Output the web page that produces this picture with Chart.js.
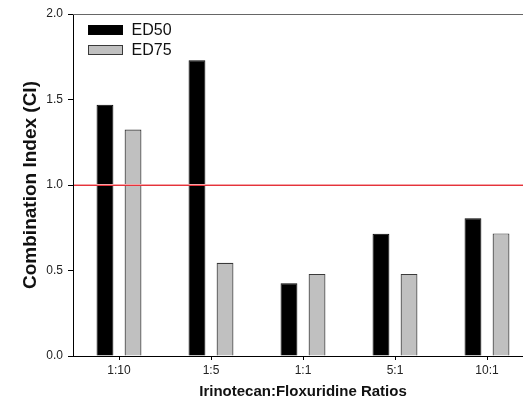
<!DOCTYPE html>
<html>
<head>
<meta charset="utf-8">
<script src="https://cdn.jsdelivr.net/npm/chart.js@4"></script>
<style>
  html, body { margin: 0; padding: 0; background: #fff; overflow: hidden; }
  #wrap { width: 540px; height: 403px; }
</style>
</head>
<body>
<div id="wrap"><canvas id="ciChart" width="540" height="403"></canvas></div>
<script>
// Chart data
const ratios = ['1:10', '1:5', '1:1', '5:1', '10:1'];
const ed50 = [1.47, 1.73, 0.425, 0.715, 0.805];
const ed75 = [1.325, 0.545, 0.48, 0.48, 0.717];
const yTicks = [0.0, 0.5, 1.0, 1.5, 2.0];
const refLine = 1.0;

const FONT = "'Liberation Sans', Arial, sans-serif";

// Top frame, legend and the red CI = 1 line
const extras = {
    id: 'extras',
    afterDraw(chart) {
        const { ctx, chartArea, scales } = chart;
        ctx.save();
        // top frame line
        ctx.fillStyle = '#666666';
        ctx.fillRect(chartArea.left, chartArea.top, chartArea.right - chartArea.left, 1);

        // legend
        const items = chart.data.datasets;
        ctx.font = '16px ' + FONT;
        ctx.textBaseline = 'middle';
        ctx.lineWidth = 1;
        items.forEach((ds, i) => {
            const bx = chartArea.left + 15.5;
            const by = chartArea.top + 11.5 + i * 20;
            ctx.fillStyle = ds.backgroundColor;
            ctx.fillRect(bx, by, 34, 9);
            ctx.strokeStyle = ds.borderColor;
            ctx.strokeRect(bx, by, 34, 9);
            ctx.fillStyle = '#111';
            ctx.fillText(ds.label, bx + 43, by + 5.5);
        });

        // CI = 1 line, drawn over the bars
        const y = Math.round(scales.y.getPixelForValue(refLine));
        const w = chartArea.right - chartArea.left - 1;
        ctx.fillStyle = '#f4a3a6';
        ctx.fillRect(chartArea.left + 1, y - 1, w, 1);
        ctx.fillStyle = '#e5333b';
        ctx.fillRect(chartArea.left + 1, y, w, 1);
        ctx.restore();
    }
};

function initCIChart() {
    const ctx = document.getElementById('ciChart').getContext('2d');

    new Chart(ctx, {
        type: 'bar',
        data: {
            labels: ratios,
            datasets: [{
                label: 'ED50',
                data: ed50,
                backgroundColor: '#000000',
                borderColor: '#000000',
                borderWidth: 1,
                categoryPercentage: 0.61,
                barPercentage: 0.6
            }, {
                label: 'ED75',
                data: ed75,
                backgroundColor: '#c0c0c0',
                borderColor: '#3a3a3a',
                borderWidth: 1.2,
                categoryPercentage: 0.61,
                barPercentage: 0.6
            }]
        },
        options: {
            responsive: false,
            animation: false,
            layout: {
                padding: { top: 14, right: 7, left: 0, bottom: 0 }
            },
            plugins: {
                legend: { display: false },
                tooltip: { enabled: false }
            },
            scales: {
                x: {
                    grid: {
                        offset: false,
                        drawOnChartArea: false,
                        drawTicks: true,
                        tickLength: 4,
                        color: '#000'
                    },
                    border: { color: '#000', width: 1 },
                    ticks: {
                        color: '#222',
                        font: { family: FONT, size: 12 },
                        padding: 3
                    },
                    title: {
                        display: true,
                        text: 'Irinotecan:Floxuridine Ratios',
                        color: '#111',
                        font: { family: FONT, size: 15, weight: 'bold' },
                        padding: { top: 2, bottom: 2 }
                    },
                    afterFit(scale) { scale.height = 47; }
                },
                y: {
                    min: 0,
                    max: 2.0,
                    afterBuildTicks(scale) {
                        scale.ticks = yTicks.map(v => ({ value: v }));
                    },
                    grid: {
                        drawOnChartArea: false,
                        drawTicks: true,
                        tickLength: 5,
                        color: '#000'
                    },
                    border: { color: '#000', width: 1 },
                    ticks: {
                        color: '#222',
                        font: { family: FONT, size: 12 },
                        padding: 5,
                        callback: function(value) {
                            return Number(value).toFixed(1);
                        }
                    },
                    title: {
                        display: true,
                        text: 'Combination Index (CI)',
                        color: '#111',
                        font: { family: FONT, size: 19, weight: 'bold' },
                        padding: { top: 19, bottom: 0 }
                    },
                    afterFit(scale) { scale.width = 73; }
                }
            }
        },
        plugins: [extras]
    });
}

document.addEventListener('DOMContentLoaded', initCIChart);
</script>
</body>
</html>
